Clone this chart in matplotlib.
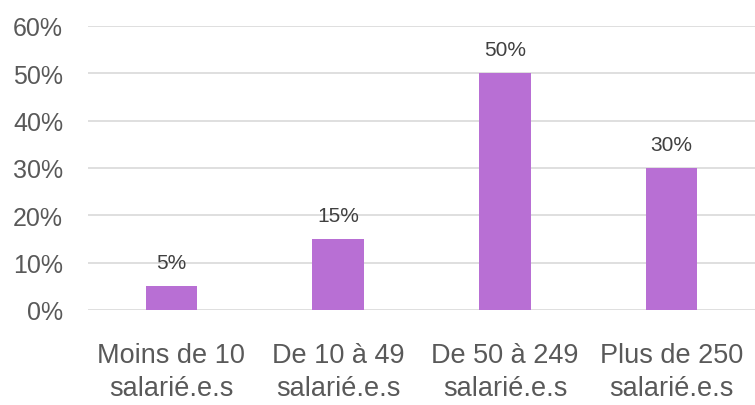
import matplotlib.pyplot as plt
from matplotlib.ticker import PercentFormatter

categories = ["Moins de 10\nsalarié.e.s", "De 10 à 49\nsalarié.e.s",
              "De 50 à 249\nsalarié.e.s", "Plus de 250\nsalarié.e.s"]
values = [0.05, 0.15, 0.50, 0.30]
y_ticks = [0, 0.1, 0.2, 0.3, 0.4, 0.5, 0.6]

bar_color = "#b86fd4"
text_color = "#595959"

plt.rcParams['font.family'] = ['Liberation Sans', 'DejaVu Sans']

fig = plt.figure(figsize=(7.55, 4.06), dpi=100)
ax = fig.add_axes([0.1166, 0.234, 0.8834, 0.700])

x = range(len(categories))
bars = ax.bar(x, values, width=0.31, color=bar_color, zorder=3)

# étiquettes de données
for b, v in zip(bars, values):
    ax.annotate("{:.0%}".format(v), (b.get_x() + b.get_width() / 2, v),
                xytext=(0, 10), textcoords="offset points",
                ha="center", va="bottom", fontsize=15, color="#404040")

ax.set_xlim(-0.5, len(categories) - 0.5)
ax.set_ylim(0, 0.6)
ax.set_yticks(y_ticks)
ax.yaxis.set_major_formatter(PercentFormatter(1.0, decimals=0))
ax.set_xticks(list(x))
ax.set_xticklabels(categories, fontsize=19.5, linespacing=1.35)

ax.grid(axis="y", color="#d9d9d9", linewidth=1.2, zorder=0)
ax.tick_params(axis="both", length=0, colors=text_color)
ax.tick_params(axis="y", labelsize=18, pad=18)
ax.tick_params(axis="x", pad=23)
for s in ax.spines.values():
    s.set_visible(False)

plt.savefig("out.png", dpi=100)
